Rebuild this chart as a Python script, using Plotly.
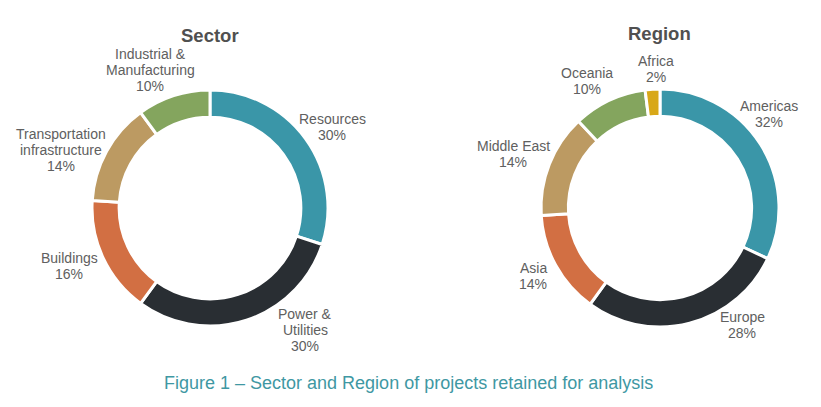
import plotly.graph_objects as go

W, H = 821, 407

colors = ['#3a96a8', '#292e33', '#d26f43', '#bc9a62', '#84a55e', '#d8a818']

sector_labels = ['Resources', 'Power &<br>Utilities', 'Buildings',
                 'Transportation<br>infrastructure', 'Industrial &<br>Manufacturing']
sector_values = [30, 30, 16, 14, 10]

region_labels = ['Americas', 'Europe', 'Asia', 'Middle East', 'Oceania', 'Africa']
region_values = [32, 28, 14, 14, 10, 2]

# centre of each text block, in pixels
sector_text_pos = [(332, 127), (305, 330), (69, 266), (61, 150), (150, 70)]
region_text_pos = [(769, 114), (742, 325), (533, 276), (513, 154), (587, 81), (656, 69)]

LINE_GAP = 15.6
TEXT = '#606060'
FONT = 'Liberation Sans'


def px(x):
    return x / W


def py(y):
    return 1 - y / H


def donut(labels, values, cx, cy, r):
    return go.Pie(labels=labels, values=values,
                  domain={'x': [px(cx - r), px(cx + r)], 'y': [py(cy + r), py(cy - r)]},
                  hole=0.77, sort=False, direction='clockwise', rotation=0,
                  textinfo='none', hoverinfo='label+percent', showlegend=False,
                  marker={'colors': colors, 'line': {'color': 'white', 'width': 3}})


def text(x, y, s, size=14, color=TEXT, bold=False):
    return dict(x=px(x), y=py(y), xref='paper', yref='paper', text=s, showarrow=False,
                xanchor='center', yanchor='middle',
                font={'family': FONT, 'size': size, 'color': color,
                      'weight': 'bold' if bold else 'normal'})


def label_notes(labels, values, positions):
    notes = []
    for label, value, (x, y) in zip(labels, values, positions):
        lines = label.split('<br>') + [f'{value}%']
        top = y - LINE_GAP * (len(lines) - 1) / 2
        for i, line in enumerate(lines):
            notes.append(text(x, top + i * LINE_GAP, line))
    return notes


notes = label_notes(sector_labels, sector_values, sector_text_pos)
notes += label_notes(region_labels, region_values, region_text_pos)
notes.append(text(210, 36, 'Sector', size=18.5, color='#505050', bold=True))
notes.append(text(659, 33, 'Region', size=18.5, color='#505050', bold=True))
notes.append(text(408, 383, 'Figure 1 – Sector and Region of projects retained for analysis',
                  size=18, color='#3f98a3'))

fig = go.Figure([donut(sector_labels, sector_values, 210, 208, 118),
                 donut(region_labels, region_values, 660, 208, 119)])
fig.update_layout(width=W, height=H, margin={'l': 0, 'r': 0, 't': 0, 'b': 0},
                  paper_bgcolor='white', annotations=notes)

# the page's default body margin would push the whole figure 8px right and down
fig.write_html('out.html', config={'displayModeBar': False},
               post_script="document.body.style.margin = '0';")
